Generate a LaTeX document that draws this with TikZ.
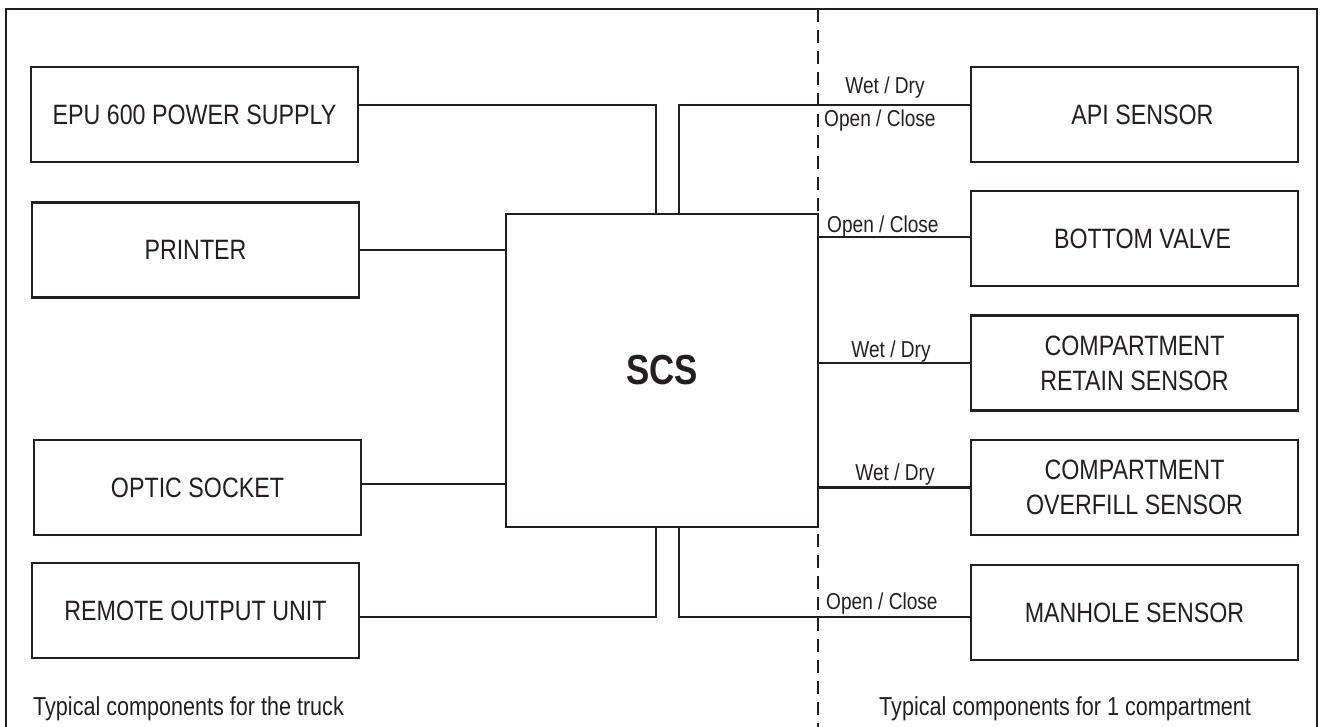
\documentclass[tikz,border=0pt]{standalone}
\usepackage{fontspec}
\setmainfont{Liberation Sans}[FakeStretch=0.83]
\begin{document}
\definecolor{ink}{RGB}{35,31,32}
\begin{tikzpicture}[x=1pt,y=-1pt,
  box/.style={draw=ink, line width=2.4pt, inner sep=0pt, align=center,
    text=ink, font=\fontsize{28}{35}\selectfont},
  lbox/.style={box, minimum width=327pt, minimum height=95pt},
  rbox/.style={box, minimum width=327pt, minimum height=95pt},
  lab/.style={inner sep=0pt, text=ink, font=\fontsize{23}{28}\selectfont},
  note/.style={inner sep=0pt, text=ink, font=\fontsize{26}{31}\selectfont, anchor=base west},
  conn/.style={draw=ink, line width=2.2pt}
]
\useasboundingbox (0,0) rectangle (1324,727);
% frame
\coordinate (fbl) at (6,727);
\coordinate (ftl) at (6,9);
\coordinate (ftr) at (1317,9);
\coordinate (fbr) at (1317,727);
\draw[draw=ink, line width=2.2pt] (fbl) -- (ftl) -- (ftr) -- (fbr);
% divider
\coordinate (dt) at (818,9);
\coordinate (db) at (818,727);
\draw[draw=ink, line width=2.2pt, dash pattern=on 13pt off 8pt] (dt) -- (db);

% left boxes
\node[lbox] (epu) at (194.5,114.5) {EPU 600 POWER SUPPLY};
\node[lbox] (printer) at (195.5,250) {PRINTER};
\node[lbox] (optic) at (197.5,487.5) {OPTIC SOCKET};
\node[lbox] (remote) at (195.5,610.5) {REMOTE OUTPUT UNIT};

% central
\node[draw=ink, line width=2.4pt, minimum width=312pt, minimum height=313pt, inner sep=0pt,
  text=ink, font=\bfseries\fontsize{42}{50}\selectfont] (scs) at (662,370.5) {SCS};

% right boxes
\node[rbox] (api) at (1134.5,114.5) {\hspace*{16pt}API SENSOR};
\node[rbox] (bv) at (1134.5,238.5) {\hspace*{16pt}BOTTOM VALVE};
\node[rbox] (ret) at (1134.5,363) {COMPARTMENT\\RETAIN SENSOR};
\node[rbox] (ovf) at (1134.5,487.5) {COMPARTMENT\\OVERFILL SENSOR};
\node[rbox] (man) at (1134.5,612.5) {MANHOLE SENSOR};

% helper coordinates
\coordinate (ytop) at (0,105);
\coordinate (ybot) at (0,617);
\coordinate (jl) at (656,0);
\coordinate (jr) at (679,0);

% connectors
\draw[conn] (epu.east |- ytop) -| (jl |- scs.north);
\draw[conn] (api.west |- ytop) -| (jr |- scs.north);
\draw[conn] (printer.east) -- (printer.east -| scs.west);
\draw[conn] (optic.east |- 0,484) -- (scs.west |- 0,484);
\draw[conn] (remote.east |- ybot) -| (jl |- scs.south);
\draw[conn] (man.west |- ybot) -| (jr |- scs.south);
\draw[conn] (bv.west |- 0,237) -- (scs.east |- 0,237);
\draw[conn] (ret.west) -- (ret.west -| scs.east);
\draw[conn] (ovf.west) -- (ovf.west -| scs.east);

% labels
\node[lab, anchor=base] (l1) at (885,94) {Wet / Dry};
\node[lab, anchor=base west] (l2) at (824,127) {Open / Close};
\node[lab, anchor=base west] (l3) at (827,233) {Open / Close};
\node[lab, anchor=base] (l4) at (891,357) {Wet / Dry};
\node[lab, anchor=base] (l5) at (895,480) {Wet / Dry};
\node[lab, anchor=base west] (l6) at (826,609) {Open / Close};

% notes
\node[note] (n1) at (33,715) {Typical components for the truck};
\node[note] (n2) at (879,715) {Typical components for 1 compartment};
\end{tikzpicture}
\end{document}
